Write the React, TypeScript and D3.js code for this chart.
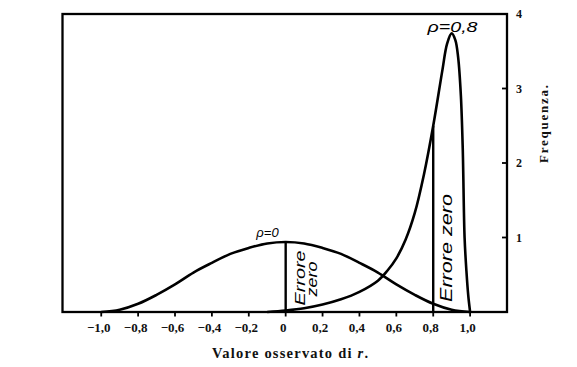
import React from "react";
import * as d3 from "d3";

// --- data (Fisher: samples of 8 pairs) ---
const rhoZeroR = [-1.0, -0.9, -0.8, -0.7, -0.6, -0.5, -0.4, -0.3, -0.2, -0.1, 0, 0.1, 0.2, 0.3, 0.4, 0.5, 0.6, 0.7, 0.8, 0.9, 1.0];
const rhoZeroF = [0, 0.03, 0.11, 0.23, 0.37, 0.53, 0.66, 0.78, 0.86, 0.92, 0.94, 0.92, 0.86, 0.78, 0.66, 0.53, 0.37, 0.23, 0.11, 0.03, 0];

const rhoEightR = [-0.1, 0, 0.1, 0.2, 0.3, 0.4, 0.5, 0.55, 0.6, 0.65, 0.7, 0.75, 0.8, 0.85, 0.875, 0.9, 0.92, 0.935, 0.95, 0.96, 0.97, 0.98, 0.99, 1.0];
const rhoEightF = [0, 0.02, 0.05, 0.10, 0.17, 0.27, 0.42, 0.55, 0.72, 0.97, 1.33, 1.85, 2.50, 3.25, 3.60, 3.74, 3.65, 3.42, 2.90, 2.20, 1.00, 0.55, 0.22, 0];

const xTicks = [-1.0, -0.8, -0.6, -0.4, -0.2, 0, 0.2, 0.4, 0.6, 0.8, 1.0];
const yTicks = [1, 2, 3, 4];
const zeroErrorAt = [0, 0.8];

const W = 577, H = 367;
const xDomain = [-1.21, 1.2];
const yDomain = [0, 4];

export default function App() {
  const x = d3.scaleLinear().domain(xDomain).range([62.5, 507]);
  const y = d3.scaleLinear().domain(yDomain).range([312, 14]);

  const line = d3
    .line<[number, number]>()
    .x((d) => x(d[0]))
    .y((d) => y(d[1]))
    .curve(d3.curveCatmullRom.alpha(0.5));

  const s0 = rhoZeroR.map((r, i) => [r, rhoZeroF[i]] as [number, number]);
  const s8 = rhoEightR.map((r, i) => [r, rhoEightF[i]] as [number, number]);

  const valAt = (rs: number[], fs: number[], r: number) => {
    const i = rs.findIndex((v) => Math.abs(v - r) < 1e-9);
    return fs[i];
  };
  const errTop = [valAt(rhoZeroR, rhoZeroF, zeroErrorAt[0]), valAt(rhoEightR, rhoEightF, zeroErrorAt[1])];

  const fmt = (v: number) => {
    if (v === 0) return "0";
    const s = Math.abs(v).toFixed(1).replace(".", ",");
    return v < 0 ? "\u2212" + s : s;
  };

  const serif = "'Liberation Serif', 'DejaVu Serif', serif";
  const hand = "'Liberation Sans', 'DejaVu Sans', sans-serif";

  return (
    <svg width={W} height={H} style={{ position: "absolute", left: 0, top: 0, background: "#fff" }}>
      <rect x={0} y={0} width={W} height={H} fill="#fff" />
      {/* frame */}
      <rect
        x={x(xDomain[0])}
        y={y(yDomain[1])}
        width={x(xDomain[1]) - x(xDomain[0])}
        height={y(yDomain[0]) - y(yDomain[1])}
        fill="none"
        stroke="#000"
        strokeWidth={2.3}
      />
      {/* bottom ticks */}
      {xTicks.map((t) => (
        <g key={"xt" + t}>
          <line x1={x(t)} x2={x(t)} y1={y(0)} y2={y(0) + 4.5} stroke="#000" strokeWidth={1.8} />
          <text
            x={x(t) - 2.5}
            y={332}
            textAnchor="middle"
            fontFamily={serif}
            fontWeight="bold"
            fontSize={13}
            fill="#111"
          >
            {fmt(t)}
          </text>
        </g>
      ))}
      {/* right ticks */}
      {yTicks.map((t) => (
        <g key={"yt" + t}>
          <line x1={x(xDomain[1]) - 5} x2={x(xDomain[1])} y1={y(t)} y2={y(t)} stroke="#000" strokeWidth={1.8} />
          <text
            x={519}
            y={y(t) + 4}
            textAnchor="middle"
            fontFamily={serif}
            fontWeight="bold"
            fontSize={12}
            fill="#111"
          >
            {t}
          </text>
        </g>
      ))}
      {/* curves */}
      <path d={line(s0) || ""} fill="none" stroke="#000" strokeWidth={2.6} strokeLinejoin="round" />
      <path d={line(s8) || ""} fill="none" stroke="#000" strokeWidth={2.6} strokeLinejoin="round" />
      {/* zero-error verticals */}
      {zeroErrorAt.map((r, i) => (
        <line key={"ez" + r} x1={x(r)} x2={x(r)} y1={y(0)} y2={y(errTop[i])} stroke="#000" strokeWidth={2.4} />
      ))}
      {/* labels */}
      <text x={267.5} y={237} textAnchor="middle" fontFamily={hand} fontStyle="italic" fontSize={13} fill="#000">
        ρ=0
      </text>
      <text
        x={452.5}
        y={31.5}
        textAnchor="middle"
        fontFamily={hand}
        fontStyle="italic"
        fontSize={15}
        textLength={50}
        lengthAdjust="spacingAndGlyphs"
        fill="#000"
      >
        ρ=0,8
      </text>
      <g transform={`translate(${x(0) + 19}, 278) rotate(-90)`}>
        <text x={0} y={0} textAnchor="middle" fontFamily={hand} fontStyle="italic" fontSize={14.5} textLength={55} lengthAdjust="spacingAndGlyphs" fill="#000">
          Errore
        </text>
      </g>
      <g transform={`translate(${x(0) + 31}, 279) rotate(-90)`}>
        <text x={0} y={0} textAnchor="middle" fontFamily={hand} fontStyle="italic" fontSize={14.5} textLength={35} lengthAdjust="spacingAndGlyphs" fill="#000">
          zero
        </text>
      </g>
      <g transform={`translate(${x(0.8) + 18.5}, 248) rotate(-90)`}>
        <text x={0} y={0} textAnchor="middle" fontFamily={hand} fontStyle="italic" fontSize={16.5} textLength={108} lengthAdjust="spacingAndGlyphs" fill="#000">
          Errore zero
        </text>
      </g>
      {/* axis titles */}
      <text x={290} y={357.5} textAnchor="middle" fontFamily={serif} fontWeight="bold" fontSize={14.5} textLength={156} lengthAdjust="spacing" fill="#111">
        Valore osservato di <tspan fontStyle="italic">r</tspan>.
      </text>
      <g transform="translate(548, 124) rotate(-90)">
        <text x={0} y={0} textAnchor="middle" fontFamily={serif} fontWeight="bold" fontSize={13} textLength={78} lengthAdjust="spacing" fill="#111">
          Frequenza.
        </text>
      </g>
    </svg>
  );
}
